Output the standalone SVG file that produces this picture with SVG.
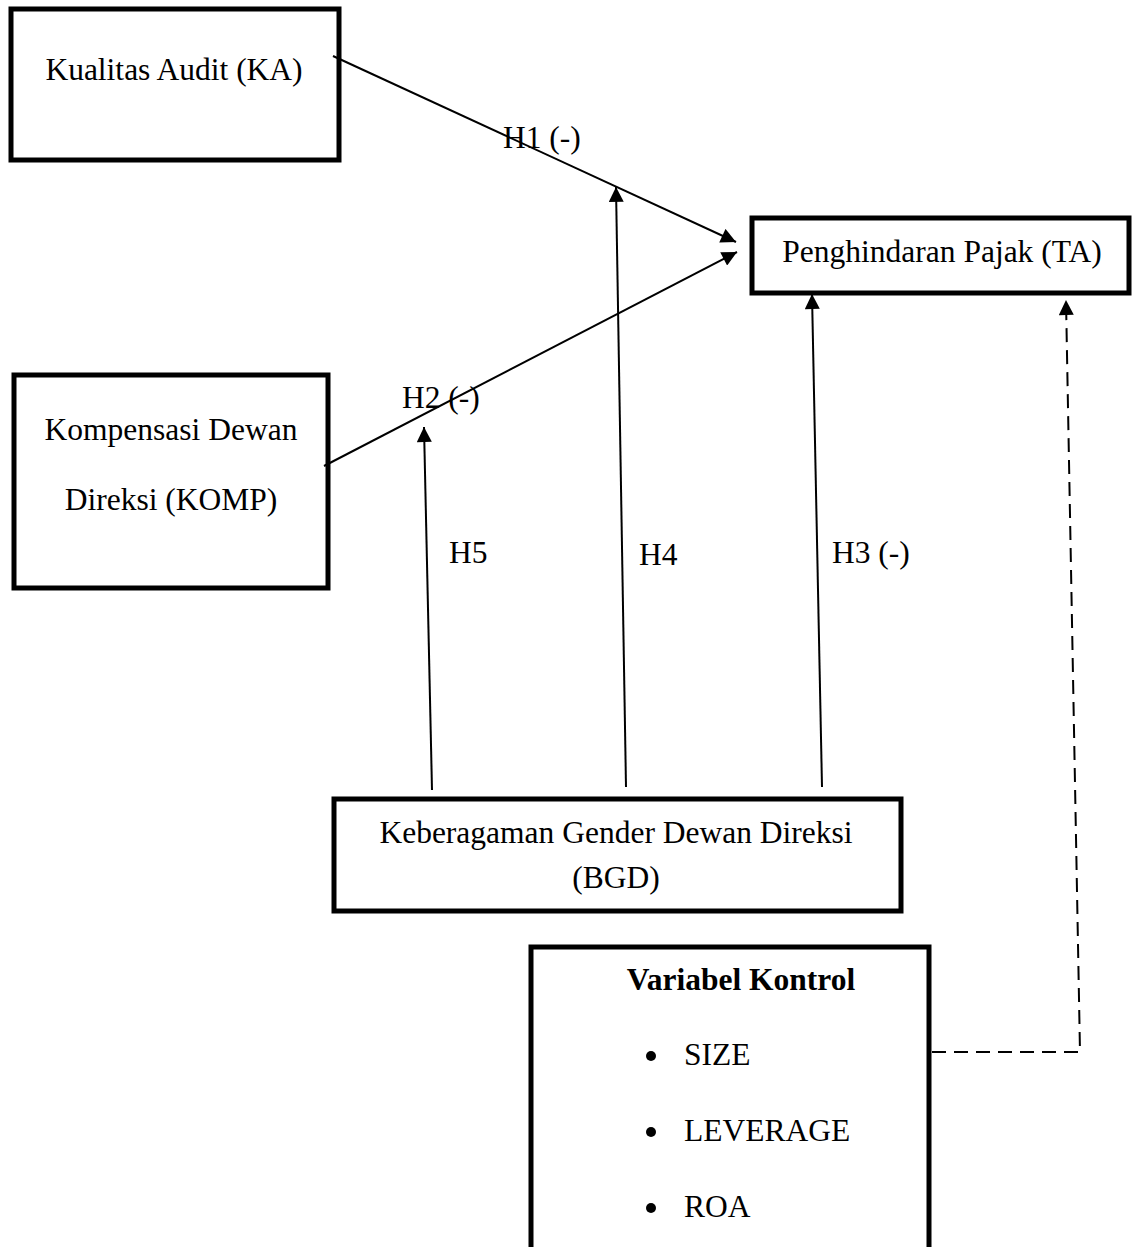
<svg xmlns="http://www.w3.org/2000/svg" width="1133" height="1247" viewBox="0 0 1133 1247">
<style>
.box{fill:#fff;stroke:#000;stroke-width:5}
.t{font-family:"Liberation Serif","Times New Roman",serif;font-size:31.5px;fill:#000}
.c{text-anchor:middle}
.b{font-weight:bold}
.ln{stroke:#000;stroke-width:2;fill:none}
.dash{stroke:#000;stroke-width:2;fill:none;stroke-dasharray:14 8}
</style>
<defs>
<marker id="ah" viewBox="0 0 10 10" refX="10" refY="5" markerWidth="16" markerHeight="15" markerUnits="userSpaceOnUse" orient="auto">
<path d="M0,0 L10,5 L0,10 Z" fill="#000"/>
</marker>
</defs>
<rect width="1133" height="1247" fill="#fff"/>
<g id="node-ka">
<rect class="box" x="11" y="9" width="328" height="151"/>
<text class="t c" x="174" y="80">Kualitas Audit (KA)</text>
</g>
<g id="node-ta">
<rect class="box" x="752" y="218" width="377" height="75"/>
<text class="t c" x="942" y="262">Penghindaran Pajak (TA)</text>
</g>
<g id="node-komp">
<rect class="box" x="14" y="375" width="314" height="213"/>
<text class="t c" x="171" y="440">Kompensasi Dewan</text>
<text class="t c" x="171" y="510">Direksi (KOMP)</text>
</g>
<g id="node-bgd">
<rect class="box" x="334" y="799" width="567" height="112"/>
<text class="t c" x="616" y="843">Keberagaman Gender Dewan Direksi</text>
<text class="t c" x="616" y="888">(BGD)</text>
</g>
<g id="node-kontrol">
<rect class="box" x="531" y="947" width="398" height="330"/>
<text class="t c b" x="741" y="990">Variabel Kontrol</text>
<circle cx="651" cy="1056" r="5"/>
<text class="t" x="684" y="1065">SIZE</text>
<circle cx="651" cy="1132" r="5"/>
<text class="t" x="684" y="1141">LEVERAGE</text>
<circle cx="651" cy="1208" r="5"/>
<text class="t" x="684" y="1217">ROA</text>
</g>
<g id="connectors">
<line class="ln" x1="333" y1="56" x2="736" y2="242" marker-end="url(#ah)"/>
<line class="ln" x1="324" y1="466" x2="737" y2="252" marker-end="url(#ah)"/>
<line class="ln" x1="432" y1="790" x2="424" y2="427" marker-end="url(#ah)"/>
<line class="ln" x1="626" y1="787" x2="616" y2="187" marker-end="url(#ah)"/>
<line class="ln" x1="822" y1="787" x2="812" y2="294" marker-end="url(#ah)"/>
<polyline class="dash" points="932,1052 1080,1052 1066,300" marker-end="url(#ah)"/>
<text class="t" x="503" y="148">H1 (-)</text>
<text class="t" x="402" y="408">H2 (-)</text>
<text class="t" x="449" y="563">H5</text>
<text class="t" x="639" y="565">H4</text>
<text class="t" x="832" y="563">H3 (-)</text>
</g>
</svg>
